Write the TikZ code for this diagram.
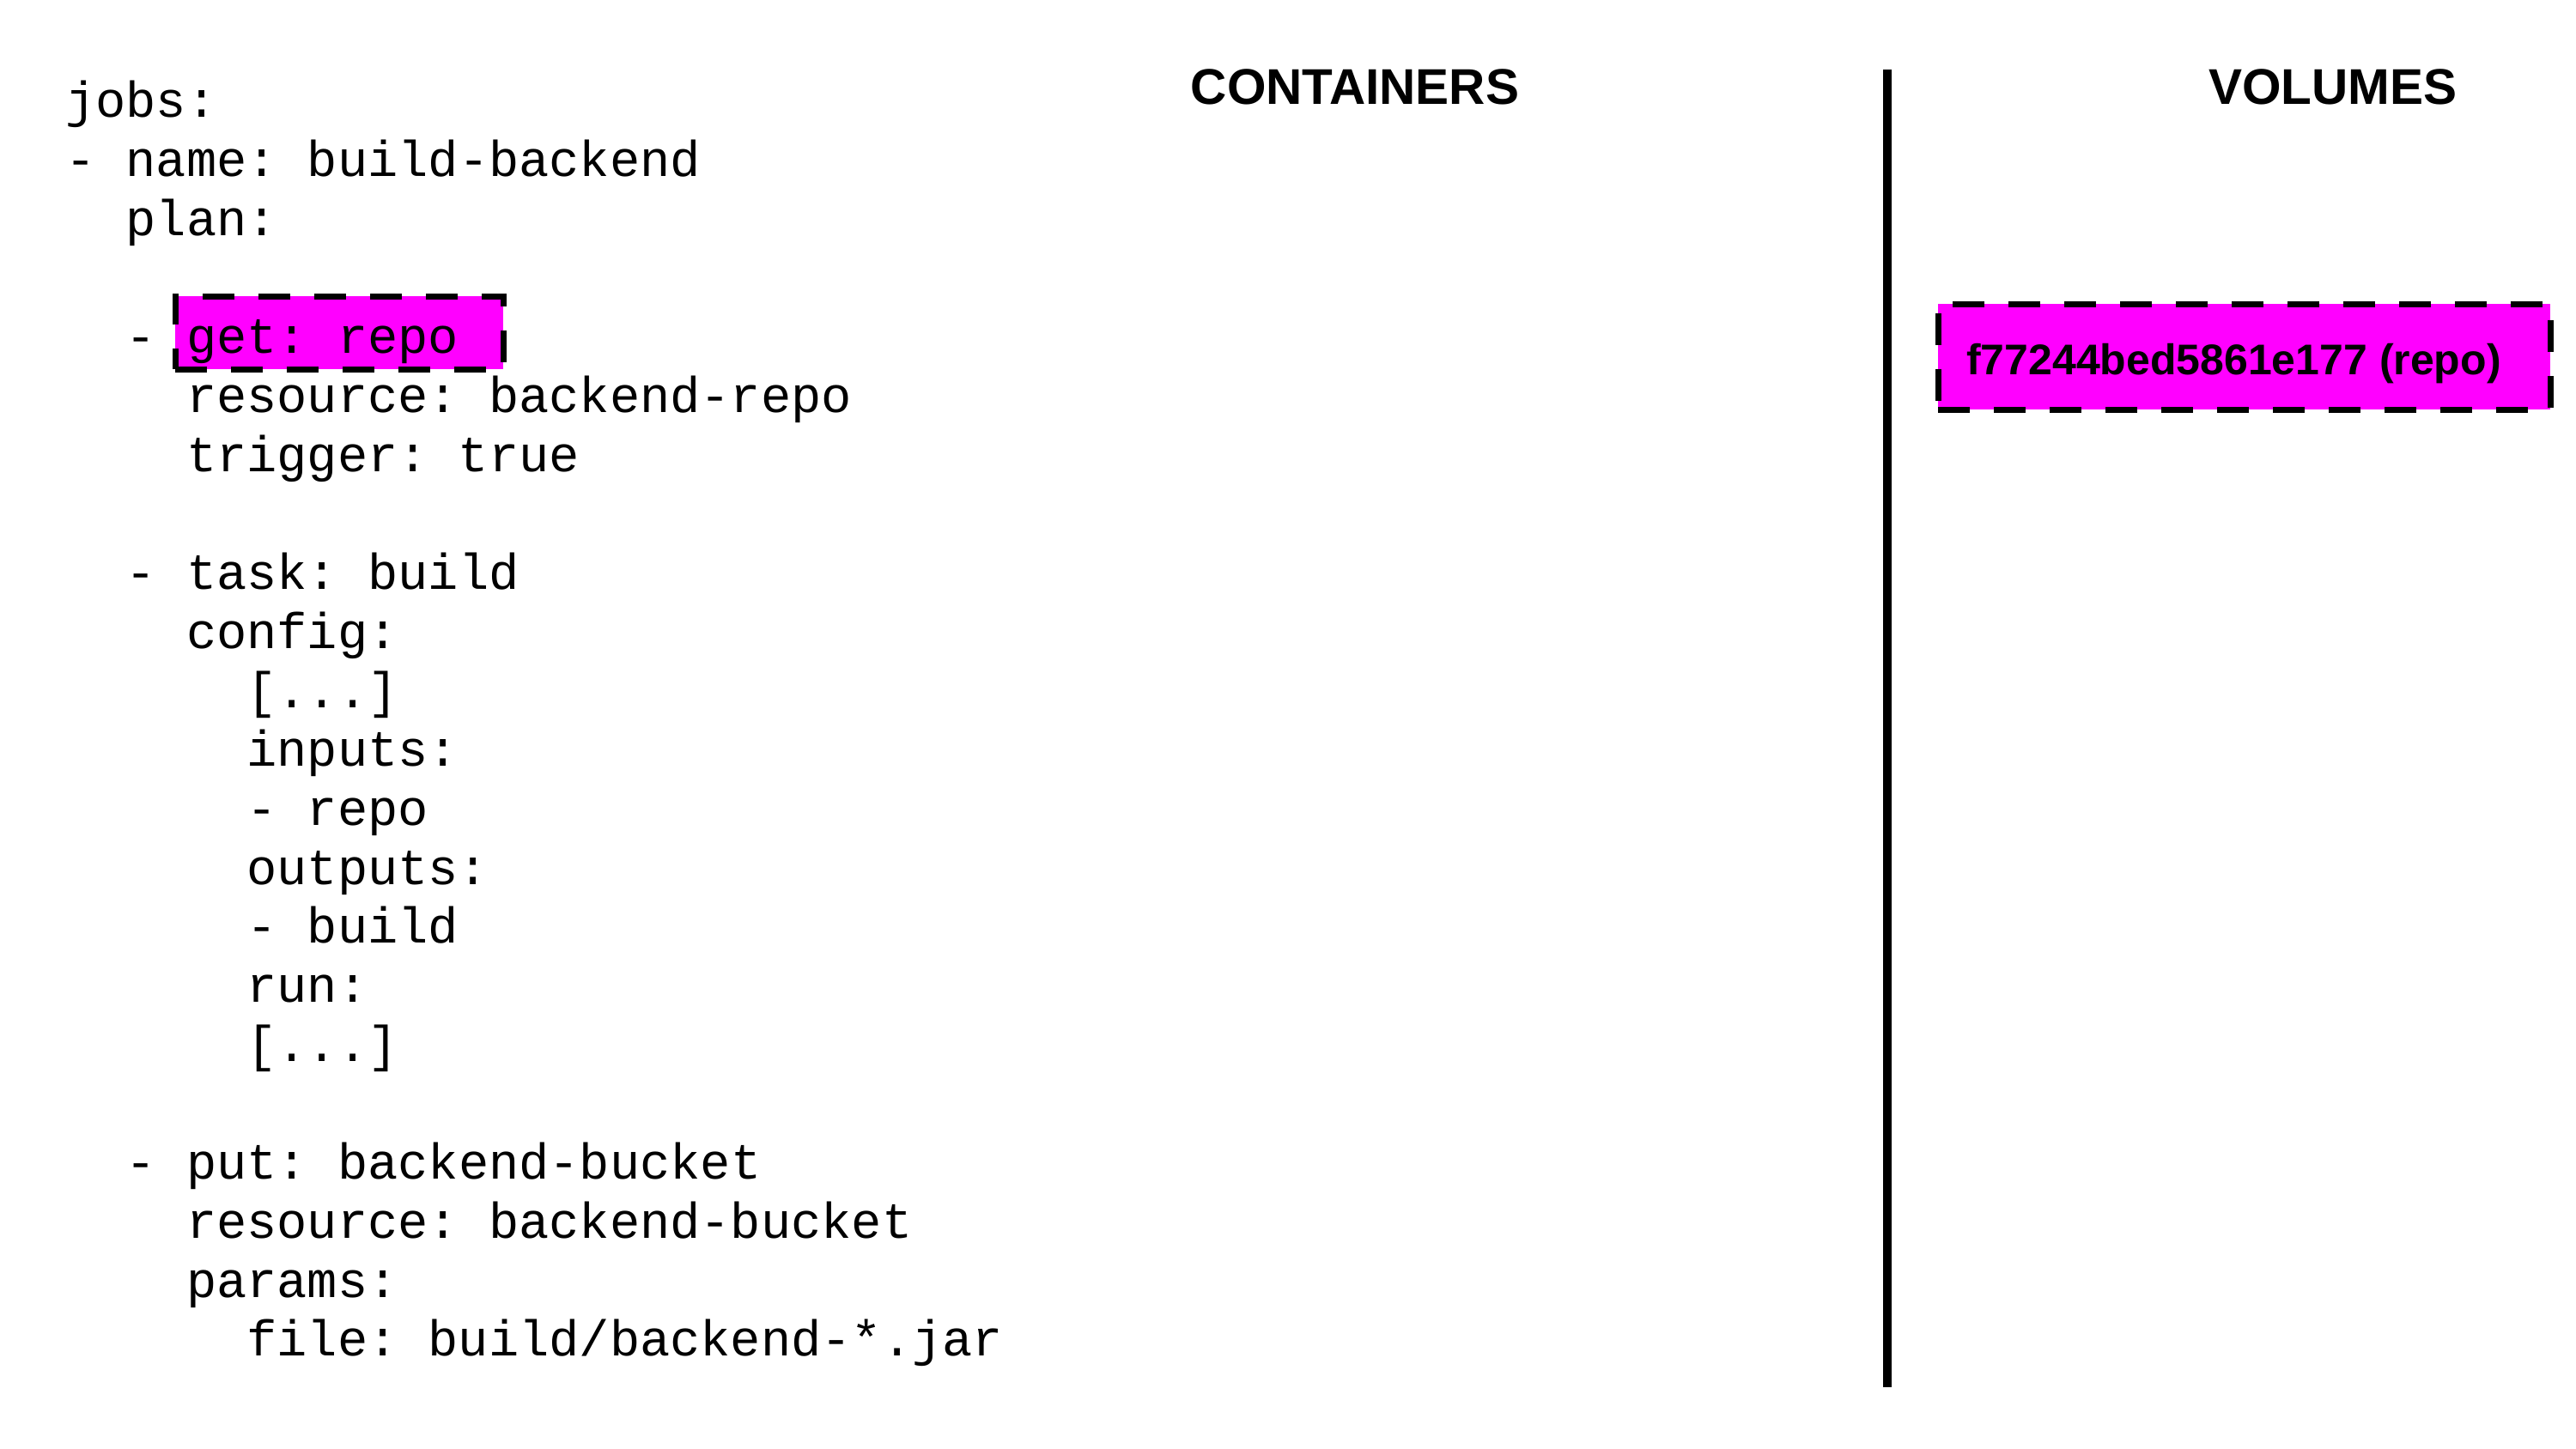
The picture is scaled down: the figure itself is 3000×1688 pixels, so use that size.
\documentclass[tikz,border=0pt]{standalone}
\usepackage{fontspec}
\setmainfont{Liberation Sans}
\newfontfamily\codefont{Liberation Mono}
\definecolor{mag}{HTML}{FF00FF}
\begin{document}
\begin{tikzpicture}[x=1pt,y=-1pt,
  code/.style={anchor=base west,inner sep=0pt,font=\codefont\fontsize{58.7}{68.7}\selectfont\frenchspacing},
  header/.style={anchor=base,inner sep=0pt,font=\bfseries\fontsize{58.5}{66}\selectfont},
  dashbox/.style={draw=black,fill=mag,line width=7pt,dash pattern=on 37pt off 28pt,inner sep=0pt},
  voltextstyle/.style={anchor=base west,inner sep=0pt,font=\bfseries\fontsize{50}{58}\selectfont}]
\useasboundingbox (0,0) rectangle (3000,1688);
% highlight box behind "get: repo"
\node[dashbox,minimum width=382pt,minimum height=85pt] (getbox) at (395,387.5) {};
% code lines
\node[code] (l0)  at (76,137)    {jobs:};
\node[code] (l1)  at (76,205.7)  {- name: build-backend};
\node[code] (l2)  at (146.4,274.4) {plan:};
\node[code] (l4a) at (146.4,411.8) {-};
\node[code] (l4)  at (216.8,411.8) {get: repo};
\node[code] (l5)  at (216.8,480.5) {resource: backend-repo};
\node[code] (l6)  at (216.8,549.2) {trigger: true};
\node[code] (l8)  at (146.4,686.6) {- task: build};
\node[code] (l9)  at (216.8,755.3) {config:};
\node[code] (l10) at (287.2,824)   {[...]};
\node[code] (l11) at (287.2,892.7) {inputs:};
\node[code] (l12) at (287.2,961.4) {- repo};
\node[code] (l13) at (287.2,1030.1) {outputs:};
\node[code] (l14) at (287.2,1098.8) {- build};
\node[code] (l15) at (287.2,1167.5) {run:};
\node[code] (l16) at (287.2,1236.2) {[...]};
\node[code] (l18) at (146.4,1373.6) {- put: backend-bucket};
\node[code] (l19) at (216.8,1442.3) {resource: backend-bucket};
\node[code] (l20) at (216.8,1511)   {params:};
\node[code] (l21) at (287.2,1579.7) {file: build/backend-*.jar};
% headers
\node[header] (containers) at (1578,122) {CONTAINERS};
\node[header] (volumes) at (2717,122) {VOLUMES};
% divider
\coordinate (divtop) at (2198,81);
\coordinate (divbot) at (2198,1616);
\draw[line width=10pt] (divtop) -- (divbot);
% volume
\node[dashbox,minimum width=713pt,minimum height=123pt] (vol) at (2613.5,415.5) {};
\node[voltextstyle] (voltext) at (2290,436) {f77244bed5861e177 (repo)};
\end{tikzpicture}
\end{document}
